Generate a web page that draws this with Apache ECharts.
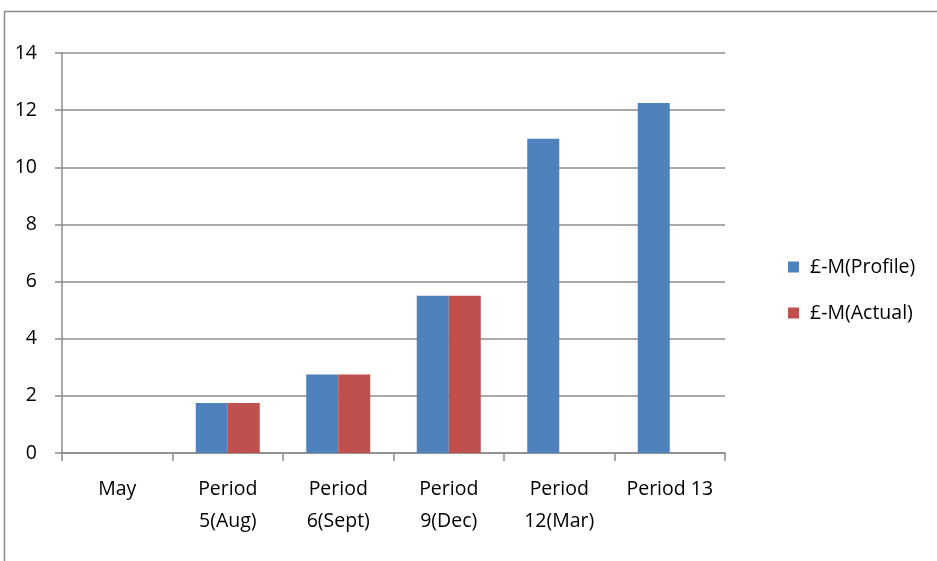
<!DOCTYPE html>
<html>
<head>
<meta charset="utf-8">
<script src="https://cdn.jsdelivr.net/npm/echarts@6/dist/echarts.min.js"></script>
<style>
  html, body { margin: 0; padding: 0; background: #fff; }
  #chart { width: 937px; height: 561px; }
</style>
</head>
<body>
<div id="chart"></div>
<script>
const categories = ['May', 'Period\n5(Aug)', 'Period\n6(Sept)', 'Period\n9(Dec)', 'Period\n12(Mar)', 'Period 13']
const profile = [0, 1.75, 2.75, 5.5, 11, 12.25]
const actual = [0, 1.75, 2.75, 5.5, null, null]
const yTicks = { min: 0, max: 14, step: 2 }

const font = 'Open Sans'
const chart = echarts.init(document.getElementById('chart'))
chart.setOption({
  animation: false,
  textStyle: { fontFamily: font },
  graphic: [
    {
      type: 'rect',
      shape: { x: 4.5, y: 11.5, width: 1000, height: 1000 },
      style: { fill: 'none', stroke: '#8c8c8c', lineWidth: 1.5 },
      silent: true,
    },
  ],
  legend: {
    orient: 'vertical',
    left: 783,
    top: 250,
    itemWidth: 11,
    itemHeight: 11,
    itemGap: 22,
    icon: 'rect',
    textStyle: {
      fontFamily: font,
      fontSize: 19.5,
      lineHeight: 24,
      color: '#000',
      padding: [0, 0, 0, 6],
    },
    data: ['£-M(Profile)', '£-M(Actual)'],
  },
  grid: {
    left: 62,
    right: 937 - 725,
    top: 53,
    bottom: 561 - 453,
    containLabel: false,
  },
  xAxis: {
    type: 'category',
    data: categories,
    axisLine: { lineStyle: { color: '#8c8c8c', width: 1.5 } },
    axisTick: { show: true, length: 8, lineStyle: { color: '#8c8c8c', width: 1.5 } },
    axisLabel: {
      color: '#000',
      fontSize: 19.5,
      fontFamily: font,
      lineHeight: 32,
      margin: 20,
      interval: 0,
    },
  },
  yAxis: {
    type: 'value',
    min: yTicks.min,
    max: yTicks.max,
    interval: yTicks.step,
    axisLine: { show: true, lineStyle: { color: '#8c8c8c', width: 1.5 } },
    axisTick: { show: true, length: 7, lineStyle: { color: '#8c8c8c', width: 1.5 } },
    splitLine: { lineStyle: { color: '#8c8c8c', width: 1.5 } },
    axisLabel: { color: '#000', fontSize: 19.5, fontFamily: font, margin: 25 },
  },
  series: [
    {
      name: '£-M(Profile)',
      type: 'bar',
      data: profile,
      barWidth: 32,
      barGap: '0%',
      itemStyle: { color: '#4f81bd' },
    },
    {
      name: '£-M(Actual)',
      type: 'bar',
      data: actual,
      barWidth: 32,
      itemStyle: { color: '#c0504d' },
    },
  ],
})
</script>
</body>
</html>
